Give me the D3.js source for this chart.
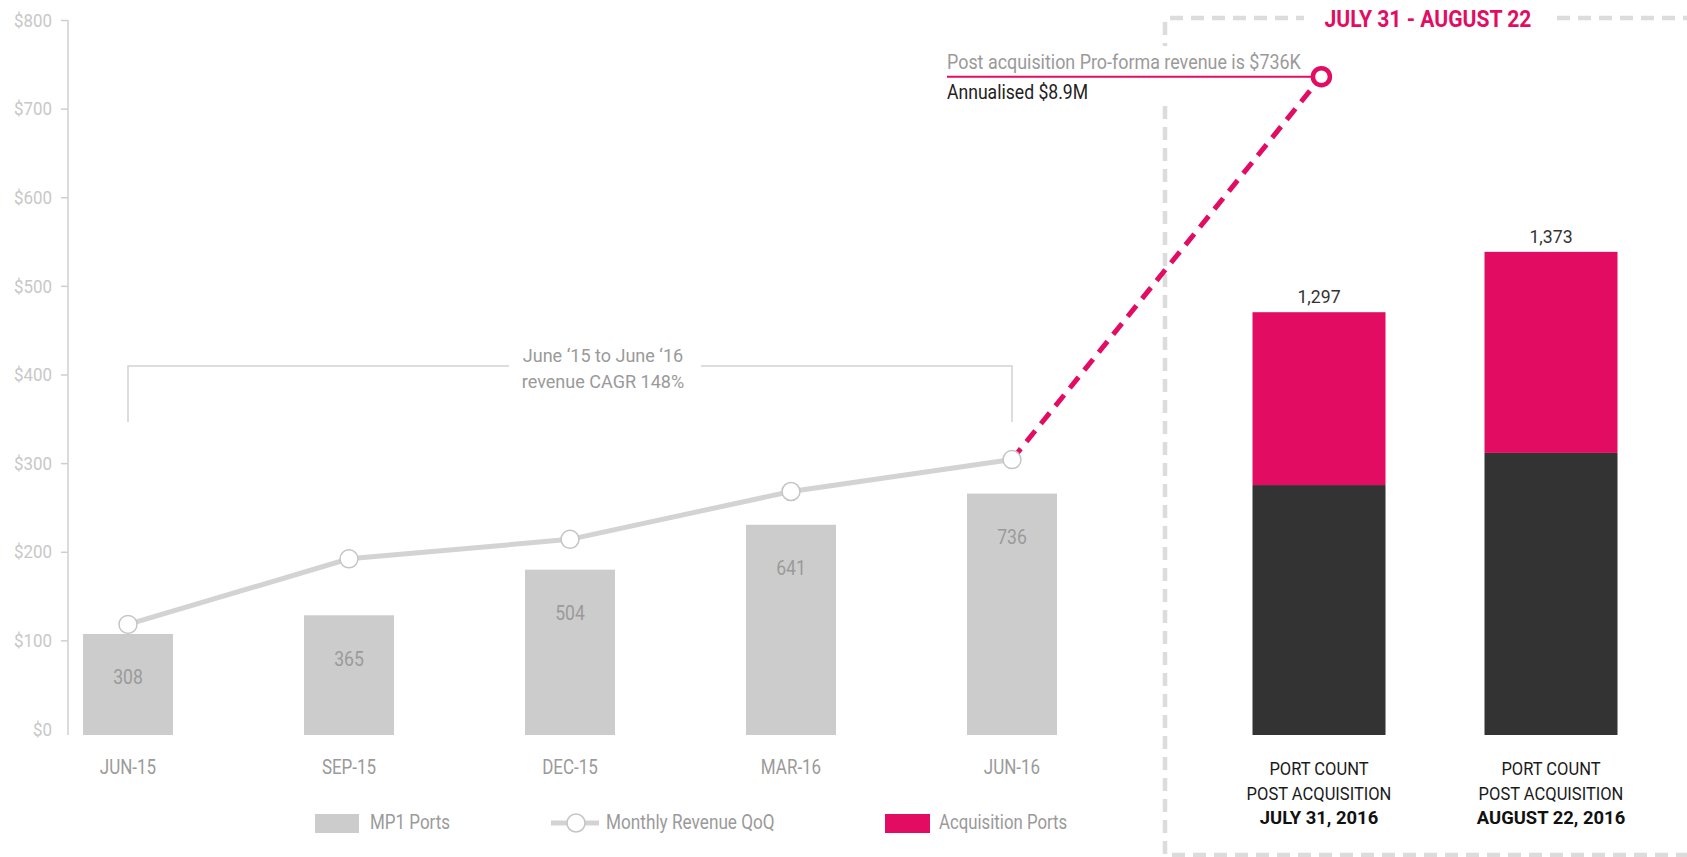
<!DOCTYPE html>
<html>
<head>
<meta charset="utf-8">
<script src="https://cdn.jsdelivr.net/npm/d3@7"></script>
<style>
  body { margin: 0; background: #fff; }
  svg text { font-family: "Roboto", "Liberation Sans", sans-serif; }
</style>
</head>
<body>
<div id="chart"></div>
<script>
// quarterly history
var quarters = ["JUN-15", "SEP-15", "DEC-15", "MAR-16", "JUN-16"];
var mp1Ports = [308, 365, 504, 641, 736];
var monthlyRevenue = [118, 192, 214, 268, 304];
var revTicks = [0, 100, 200, 300, 400, 500, 600, 700, 800];

// post acquisition point (index on the quarter axis)
var postIndex = 5.4;
var postRevenue = 736;

// port counts after acquisition
var portDates = ["JULY 31, 2016", "AUGUST 22, 2016"];
var portTotals = [1297, 1373];
var portMp1 = [762, 860];
var portAcq = [527, 613];

var width = 1687, height = 857;
var pink = "#e20d62", dark = "#333333", lightGrey = "#cccccc";

var svg = d3.select("#chart").append("svg")
    .attr("width", width)
    .attr("height", height);

// no condensed font installed, so squeeze the text horizontally
function condense(sel, k) {
    sel.each(function() {
        var t = d3.select(this);
        var tx = +t.attr("x") || 0, ty = +t.attr("y") || 0;
        t.attr("x", 0).attr("y", 0)
            .attr("transform", "translate(" + tx + "," + ty + ") scale(" + k + ",1)");
    });
}

var x = d3.scaleLinear().domain([0, 4]).range([128, 1012]);
var yRev = d3.scaleLinear().domain([0, 800]).range([729, 20]);
var yPorts = d3.scaleLinear().domain([0, 1000]).range([735, 407]);
var xRight = d3.scalePoint().domain(portDates).range([1319, 1551]);
var barW = 90, rightBarW = 133;

// y axis
var yAxis = d3.axisLeft(yRev)
    .tickValues(revTicks)
    .tickSize(7)
    .tickPadding(9)
    .tickFormat(function(d) { return "$" + d; });

var yAxisG = svg.append("g")
    .attr("transform", "translate(68,0)")
    .call(yAxis);
yAxisG.select(".domain").remove();
yAxisG.selectAll(".tick line").attr("stroke", "#cfcfcf").attr("stroke-width", 1.5);
yAxisG.selectAll(".tick").filter(function(d) { return d === 0; }).select("line").remove();
yAxisG.selectAll("text")
    .attr("fill", "#c8c8c8")
    .attr("dy", null)
    .attr("dominant-baseline", "central")
    .style("font-size", "18px")
    .call(condense, 0.94);
yAxisG.append("line")
    .attr("y1", yRev(800)).attr("y2", yPorts(0))
    .attr("stroke", "#cfcfcf").attr("stroke-width", 1.5);

// MP1 bars
svg.append("g").selectAll("rect")
    .data(mp1Ports)
    .enter().append("rect")
    .attr("x", function(d, i) { return x(i) - barW / 2; })
    .attr("y", function(d) { return yPorts(d); })
    .attr("width", barW)
    .attr("height", function(d) { return yPorts(0) - yPorts(d); })
    .attr("fill", lightGrey);

svg.append("g").selectAll("text")
    .data(mp1Ports)
    .enter().append("text")
    .attr("x", function(d, i) { return x(i); })
    .attr("y", function(d) { return yPorts(d) + 44; })
    .attr("text-anchor", "middle")
    .attr("dominant-baseline", "central")
    .attr("fill", "#9a9a9a")
    .style("font-size", "20px")
    .text(function(d) { return d; })
    .call(condense, 0.88);

// quarter labels
svg.append("g").selectAll("text")
    .data(quarters)
    .enter().append("text")
    .attr("x", function(d, i) { return x(i); })
    .attr("y", 768)
    .attr("text-anchor", "middle")
    .attr("dominant-baseline", "central")
    .attr("fill", "#9a9a9a")
    .style("font-size", "20px")
    .text(function(d) { return d; })
    .call(condense, 0.85);

// CAGR bracket
var bracketY = 366, bracketBottom = 422;
var bracket = svg.append("g")
    .attr("fill", "none")
    .attr("stroke", "#d2d2d2")
    .attr("stroke-width", 1.5);
bracket.append("path")
    .attr("d", "M" + x(0) + "," + bracketBottom + "V" + bracketY + "H509");
bracket.append("path")
    .attr("d", "M701," + bracketY + "H" + x(4) + "V" + bracketBottom);

svg.append("text")
    .attr("x", (x(0) + x(4)) / 2 + 33)
    .attr("y", 356)
    .attr("text-anchor", "middle")
    .attr("dominant-baseline", "central")
    .attr("fill", "#9a9a9a")
    .style("font-size", "19px")
    .text("June \u201815 to June \u201816")
    .call(condense, 0.95);
svg.append("text")
    .attr("x", (x(0) + x(4)) / 2 + 33)
    .attr("y", 382)
    .attr("text-anchor", "middle")
    .attr("dominant-baseline", "central")
    .attr("fill", "#9a9a9a")
    .style("font-size", "19px")
    .text("revenue CAGR 148%")
    .call(condense, 0.95);

// dashed box on the right
var box = svg.append("g")
    .attr("fill", "none")
    .attr("stroke", "#dcdcdc")
    .attr("stroke-width", 4.5)
    .attr("stroke-dasharray", "13,8");
box.append("path").attr("d", "M1165,22V855H1687");
box.append("path").attr("d", "M1170,18H1304");
box.append("path").attr("d", "M1557,18H1687");

svg.append("text")
    .attr("x", 1428).attr("y", 19)
    .attr("text-anchor", "middle")
    .attr("dominant-baseline", "central")
    .attr("fill", pink)
    .style("font-size", "24px")
    .style("font-weight", "bold")
    .text("JULY 31 - AUGUST 22")
    .call(condense, 0.88);

// pink dashed projection
svg.append("line")
    .attr("x1", x(4)).attr("y1", yRev(monthlyRevenue[4]))
    .attr("x2", x(postIndex)).attr("y2", yRev(postRevenue))
    .attr("stroke", pink)
    .attr("stroke-width", 5)
    .attr("stroke-dasharray", "14,9");

// revenue line
var line = d3.line()
    .x(function(d, i) { return x(i); })
    .y(function(d) { return yRev(d); });

svg.append("path")
    .datum(monthlyRevenue)
    .attr("d", line)
    .attr("fill", "none")
    .attr("stroke", "#d3d3d3")
    .attr("stroke-width", 5);

svg.append("g").selectAll("circle")
    .data(monthlyRevenue)
    .enter().append("circle")
    .attr("cx", function(d, i) { return x(i); })
    .attr("cy", function(d) { return yRev(d); })
    .attr("r", 9)
    .attr("fill", "#fff")
    .attr("stroke", "#c4c4c4")
    .attr("stroke-width", 1.5);

// annotation (white backing hides the box edge behind it)
svg.append("rect")
    .attr("x", 1150).attr("y", 46).attr("width", 40).attr("height", 60)
    .attr("fill", "#fff");
svg.append("line")
    .attr("x1", 947).attr("x2", x(postIndex))
    .attr("y1", yRev(postRevenue)).attr("y2", yRev(postRevenue))
    .attr("stroke", pink).attr("stroke-width", 2);
svg.append("circle")
    .attr("cx", x(postIndex))
    .attr("cy", yRev(postRevenue))
    .attr("r", 8.5)
    .attr("fill", "#fff")
    .attr("stroke", pink)
    .attr("stroke-width", 4.5);
svg.append("text")
    .attr("x", 947).attr("y", 62)
    .attr("dominant-baseline", "central")
    .attr("fill", "#9a9a9a")
    .style("font-size", "20px")
    .text("Post acquisition Pro-forma revenue is $736K")
    .call(condense, 0.895);
svg.append("text")
    .attr("x", 947).attr("y", 93)
    .attr("dominant-baseline", "central")
    .attr("fill", "#222")
    .style("font-size", "20px")
    .text("Annualised $8.9M")
    .call(condense, 0.88);

// stacked port bars
var rightG = svg.append("g");
rightG.selectAll("rect.mp1")
    .data(portMp1)
    .enter().append("rect")
    .attr("class", "mp1")
    .attr("x", function(d, i) { return xRight(portDates[i]) - rightBarW / 2; })
    .attr("y", function(d) { return yPorts(d); })
    .attr("width", rightBarW)
    .attr("height", function(d) { return yPorts(0) - yPorts(d); })
    .attr("fill", dark);
rightG.selectAll("rect.acq")
    .data(portAcq)
    .enter().append("rect")
    .attr("class", "acq")
    .attr("x", function(d, i) { return xRight(portDates[i]) - rightBarW / 2; })
    .attr("y", function(d, i) { return yPorts(portMp1[i] + d); })
    .attr("width", rightBarW)
    .attr("height", function(d) { return yPorts(0) - yPorts(d); })
    .attr("fill", pink);
rightG.selectAll("text.total")
    .data(portTotals)
    .enter().append("text")
    .attr("class", "total")
    .attr("x", function(d, i) { return xRight(portDates[i]); })
    .attr("y", function(d, i) { return yPorts(portMp1[i] + portAcq[i]) - 16; })
    .attr("text-anchor", "middle")
    .attr("dominant-baseline", "central")
    .attr("fill", "#333")
    .style("font-size", "19px")
    .text(function(d) { return d3.format(",")(d); })
    .call(condense, 0.93);

portDates.forEach(function(d) {
    rightG.append("text")
        .attr("x", xRight(d)).attr("y", 775)
        .attr("text-anchor", "middle")
        .attr("fill", "#1a1a1a")
        .style("font-size", "19px")
        .text("PORT COUNT")
        .call(condense, 0.87);
    rightG.append("text")
        .attr("x", xRight(d)).attr("y", 800)
        .attr("text-anchor", "middle")
        .attr("fill", "#1a1a1a")
        .style("font-size", "19px")
        .text("POST ACQUISITION")
        .call(condense, 0.87);
    rightG.append("text")
        .attr("x", xRight(d)).attr("y", 824)
        .attr("text-anchor", "middle")
        .attr("fill", "#111")
        .style("font-size", "19px")
        .style("font-weight", "bold")
        .text(d)
        .call(condense, 0.97);
});

// legend
var legend = svg.append("g");
legend.append("rect")
    .attr("x", 315).attr("y", 814).attr("width", 44).attr("height", 19)
    .attr("fill", lightGrey);
legend.append("text")
    .attr("x", 370).attr("y", 823)
    .attr("dominant-baseline", "central")
    .attr("fill", "#9a9a9a").style("font-size", "20px")
    .text("MP1 Ports")
    .call(condense, 0.85);
legend.append("line")
    .attr("x1", 551).attr("x2", 599).attr("y1", 823).attr("y2", 823)
    .attr("stroke", "#d3d3d3").attr("stroke-width", 5);
legend.append("circle")
    .attr("cx", 576).attr("cy", 823).attr("r", 9)
    .attr("fill", "#fff").attr("stroke", "#c4c4c4").attr("stroke-width", 1.5);
legend.append("text")
    .attr("x", 606).attr("y", 823)
    .attr("dominant-baseline", "central")
    .attr("fill", "#9a9a9a").style("font-size", "20px")
    .text("Monthly Revenue QoQ")
    .call(condense, 0.86);
legend.append("rect")
    .attr("x", 885).attr("y", 814).attr("width", 45).attr("height", 19)
    .attr("fill", pink);
legend.append("text")
    .attr("x", 939).attr("y", 823)
    .attr("dominant-baseline", "central")
    .attr("fill", "#9a9a9a").style("font-size", "20px")
    .text("Acquisition Ports")
    .call(condense, 0.84);
</script>
</body>
</html>
